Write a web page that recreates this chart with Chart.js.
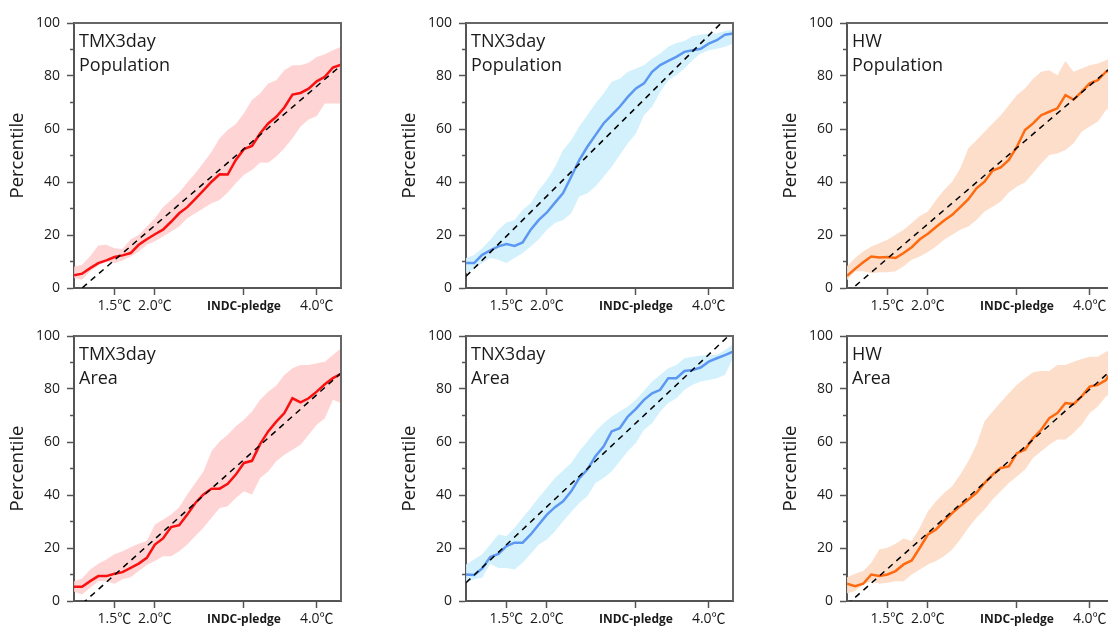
<!DOCTYPE html>
<html>
<head>
<meta charset="utf-8">
<script src="https://cdn.jsdelivr.net/npm/chart.js@4/dist/chart.umd.min.js"></script>
<style>
  body { margin: 0; width: 1108px; height: 628px; overflow: hidden; background: #fff; position: relative; }
  canvas { position: absolute; }
</style>
</head>
<body>
<canvas id="p1" width="380" height="330" style="left:0px;top:0px"></canvas>
<canvas id="p2" width="380" height="330" style="left:392px;top:0px"></canvas>
<canvas id="p3" width="380" height="330" style="left:773px;top:0px"></canvas>
<canvas id="p4" width="380" height="330" style="left:0px;top:313px"></canvas>
<canvas id="p5" width="380" height="330" style="left:392px;top:313px"></canvas>
<canvas id="p6" width="380" height="330" style="left:773px;top:313px"></canvas>
<script>
// global warming level (°C) for each sample
const warming = [1.0,1.1,1.2,1.3,1.4,1.5,1.6,1.7,1.8,1.9,2.0,2.1,2.2,2.3,2.4,2.5,2.6,2.7,2.8,2.9,3.0,3.1,3.2,3.3,3.4,3.5,3.6,3.7,3.8,3.9,4.0,4.1,4.2,4.3];
const fitX = [1.0, 4.3];
const xTickValues = [1.5, 2.0, 3.1, 4.0];
const xTickLabels = ['1.5℃', '2.0℃', 'INDC-pledge', '4.0℃'];
const yMinorTicks = [10, 30, 50, 70, 90];

// TMX3day - Population
const tmxPopMedian = [4.8,5.4,7.5,9.4,10.4,11.7,12.3,13.2,16.3,18.4,20.3,22.0,25.0,28.2,30.5,33.6,36.8,40.1,42.9,42.8,48.3,52.4,53.6,58.3,62.1,64.6,68.1,73.0,73.6,75.2,78.0,79.7,83.2,84.3];
const tmxPopUpper = [8.0,8.8,12.0,16.0,16.3,15.0,14.7,18.4,20.0,23.2,26.3,30.5,33.2,36.0,39.8,43.3,47.3,51.4,56.5,59.6,61.9,65.9,70.9,73.4,77.2,78.4,82.2,84.1,84.1,85.0,87.2,88.2,89.7,91.0];
const tmxPopLower = [3.8,3.1,6.3,8.5,10.0,9.4,10.4,11.9,13.8,16.3,17.6,19.4,21.3,23.2,26.3,28.2,30.1,32.0,33.2,36.0,39.5,42.7,44.5,47.4,47.3,49.6,52.7,56.5,60.9,63.6,64.9,69.6,69.6,69.6];
const tmxPopFit = [-2.6, 84.0];

// TNX3day - Population
const tnxPopMedian = [9.4,9.4,12.5,14.2,15.7,16.6,15.9,17.2,22.0,25.7,28.5,32.2,35.8,42.0,48.3,53.3,57.7,62.1,65.2,68.4,72.1,75.3,77.2,81.6,84.1,85.7,87.2,89.1,89.7,90.3,92.2,93.5,95.6,96.0];
const tnxPopUpper = [11.3,12.5,15.0,18.2,22.0,24.7,25.7,29.5,32.0,37.0,40.8,45.8,52.1,55.8,60.9,65.2,69.6,73.4,77.8,79.0,81.6,82.8,84.1,86.6,88.5,91.0,92.5,93.2,95.0,95.6,96.0,96.0,97.0,97.5];
const tnxPopLower = [5.6,7.2,9.4,11.3,10.7,9.4,11.3,13.2,15.7,18.4,22.0,24.5,25.7,28.2,34.5,35.8,38.3,42.0,45.8,50.2,54.6,58.3,65.2,68.4,74.0,78.4,80.3,82.8,85.9,88.5,89.7,90.3,91.0,92.2];
const tnxPopFit = [4.4, 104.4];

// HW - Population
const hwPopMedian = [4.6,7.2,9.7,11.9,11.5,11.7,11.3,13.2,15.4,18.4,20.5,23.0,25.5,27.6,30.5,33.5,37.6,40.1,44.3,45.5,48.3,53.3,59.6,62.1,65.2,66.5,67.8,72.8,71.1,74.0,77.2,78.4,81.6,82.8];
const hwPopUpper = [8.2,11.3,13.8,15.7,16.9,18.2,20.1,22.0,24.5,27.2,28.9,33.2,37.0,40.1,45.2,52.7,55.8,59.0,62.1,65.2,69.0,72.8,75.3,79.0,81.6,82.2,80.3,85.7,81.6,82.8,84.1,84.7,85.9,87.2];
const hwPopLower = [2.9,6.3,6.3,5.6,5.9,5.9,6.3,8.2,10.7,11.9,13.6,15.7,18.2,20.1,22.0,23.2,25.7,28.9,30.7,32.6,36.0,38.3,39.8,43.3,47.0,50.2,50.8,52.1,54.6,59.0,60.9,62.7,67.1,69.6];
const hwPopFit = [-1.9, 84.2];

// TMX3day - Area
const tmxAreaMedian = [5.4,5.4,7.5,9.4,9.4,10.3,10.9,12.5,14.1,16.3,21.3,23.6,27.9,28.6,32.6,37.0,40.2,42.4,42.4,44.2,47.7,52.1,52.9,59.2,64.0,67.7,70.9,76.5,75.0,76.5,79.0,81.8,84.1,85.7];
const tmxAreaUpper = [7.5,8.5,11.9,14.1,15.7,17.6,18.8,20.3,21.6,22.6,28.9,30.7,32.6,35.4,40.2,44.5,48.9,56.5,60.2,62.7,65.9,68.4,71.5,75.9,79.0,81.3,85.3,87.8,89.1,89.1,89.7,90.3,92.8,95.4];
const tmxAreaLower = [3.5,2.5,5.0,7.5,7.5,6.5,8.2,9.0,11.3,13.6,15.1,16.9,16.9,18.8,21.3,24.5,27.6,31.4,35.1,35.8,38.9,41.4,40.2,46.4,48.9,52.7,55.2,57.1,59.0,62.7,66.5,69.0,75.9,74.7];
const tmxAreaFit = [-3.8, 86.0];

// TNX3day - Area
const tnxAreaMedian = [10.0,9.8,12.3,16.6,17.8,20.7,22.0,22.0,25.1,28.9,32.6,35.4,37.6,41.4,46.4,49.6,54.6,58.3,64.0,65.2,69.6,72.5,75.9,78.4,79.7,84.1,84.1,86.8,87.2,88.1,90.3,91.6,92.8,94.1];
const tnxAreaUpper = [13.8,15.7,17.6,21.3,25.1,24.5,27.6,31.4,35.1,39.1,42.7,46.4,49.2,52.1,56.5,60.2,64.0,67.1,69.6,71.5,73.4,75.9,79.3,82.8,85.3,87.8,89.1,91.6,92.2,92.6,92.8,92.8,94.7,96.9];
const tnxAreaLower = [6.9,8.2,8.8,14.1,12.5,12.5,11.9,14.4,17.8,21.3,23.2,26.3,30.1,33.6,37.0,39.5,44.5,46.4,48.9,52.7,56.5,59.6,64.6,67.1,71.5,74.7,76.5,79.7,81.6,82.8,83.4,84.1,85.3,91.6];
const tnxAreaFit = [6.9, 101.6];

// HW - Area
const hwAreaMedian = [6.5,5.6,6.5,10.0,9.4,10.0,11.3,13.8,15.3,20.1,25.1,27.0,30.1,33.2,35.8,38.3,40.8,44.5,47.7,50.2,50.8,55.8,57.1,61.5,64.6,69.0,70.9,74.7,74.3,77.2,80.9,81.6,83.4,88.1];
const hwAreaUpper = [9.0,10.3,11.3,14.4,19.4,20.1,21.6,23.6,22.6,27.6,33.9,37.6,40.8,43.3,47.7,52.7,59.0,67.8,71.5,75.0,78.4,81.6,84.1,86.3,86.8,86.8,89.1,89.1,90.3,91.3,92.2,92.2,94.1,94.7];
const hwAreaLower = [2.8,3.8,6.3,7.5,6.5,6.9,7.5,7.5,10.0,11.9,13.8,15.1,16.9,19.4,23.2,27.6,31.4,34.5,38.3,41.4,44.5,47.0,49.6,54.0,56.5,59.0,60.9,60.9,63.4,66.5,70.9,73.4,77.2,79.0];
const hwAreaFit = [-1.4, 88.0];

const FONT = '"Open Sans", "Noto Sans CJK SC", sans-serif';
const RED = { line: '#fa1010', band: 'rgba(255,205,205,0.85)' };
const BLUE = { line: '#5c97f2', band: 'rgba(205,240,252,0.9)' };
const ORANGE = { line: '#ff6a10', band: 'rgba(253,218,196,0.9)' };

// minor y ticks, top/right frame and the panel caption
const panelDecor = {
  id: 'panelDecor',
  afterDraw(chart, args, opts) {
    const { ctx, chartArea: a, scales: { y } } = chart;
    ctx.save();
    ctx.strokeStyle = '#555';
    ctx.lineWidth = 1.5;
    ctx.beginPath();
    yMinorTicks.forEach(v => {
      const py = y.getPixelForValue(v);
      ctx.moveTo(a.left - 4, py);
      ctx.lineTo(a.left, py);
    });
    ctx.stroke();
    ctx.strokeStyle = '#666';
    ctx.lineWidth = 2;
    ctx.beginPath();
    ctx.moveTo(a.left, a.top);
    ctx.lineTo(a.right, a.top);
    ctx.lineTo(a.right, a.bottom);
    ctx.stroke();
    ctx.fillStyle = '#1a1a1a';
    ctx.font = '18px ' + FONT;
    ctx.textBaseline = 'alphabetic';
    opts.lines.forEach((t, i) => ctx.fillText(t, a.left + 5, a.top + 23.5 + i * 24.5));
    ctx.restore();
  }
};

function pts(xs, ys) {
  return xs.map((x, i) => ({ x: x, y: ys[i] }));
}

function makePanel(id, lines, col, median, upper, lower, fit) {
  new Chart(document.getElementById(id), {
    type: 'line',
    data: {
      datasets: [
        { data: pts(fitX, fit), borderColor: '#000', borderWidth: 1.5, borderDash: [6, 5], pointRadius: 0, fill: false, order: 0 },
        { data: pts(warming, median), borderColor: col.line, borderWidth: 2.5, pointRadius: 0, fill: false, order: 1 },
        { data: pts(warming, upper), borderColor: 'rgba(0,0,0,0)', borderWidth: 0, pointRadius: 0, backgroundColor: col.band, fill: '+1', order: 2 },
        { data: pts(warming, lower), borderColor: 'rgba(0,0,0,0)', borderWidth: 0, pointRadius: 0, fill: false, order: 3 }
      ]
    },
    options: {
      responsive: false,
      animation: false,
      layout: { padding: { top: 23, bottom: 2, left: 0, right: 39 } },
      plugins: {
        legend: { display: false },
        tooltip: { enabled: false },
        panelDecor: { lines: lines }
      },
      scales: {
        x: {
          type: 'linear',
          min: 1.0,
          max: 4.3,
          afterBuildTicks: s => { s.ticks = xTickValues.map(v => ({ value: v })); },
          afterFit: s => { s.height = 40; },
          border: { color: '#555', width: 2 },
          grid: { drawOnChartArea: false, tickLength: 7, tickColor: '#555', tickWidth: 1.5 },
          ticks: {
            autoSkip: false,
            maxRotation: 0,
            padding: 3,
            color: '#1a1a1a',
            callback: (v, i) => xTickLabels[i],
            font: c => c.index === 2
              ? { family: FONT, size: 12, weight: 'bold', lineHeight: 1.5 }
              : { family: FONT, size: 14 }
          }
        },
        y: {
          min: 0,
          max: 100,
          afterFit: s => { s.width = 74; },
          border: { color: '#555', width: 2 },
          grid: {
            drawOnChartArea: false,
            tickLength: 7,
            tickWidth: 1.5,
            tickColor: c => (c.tick && c.tick.value % 20 === 0) ? '#555' : 'rgba(0,0,0,0)'
          },
          ticks: {
            stepSize: 10,
            padding: 7,
            color: '#1a1a1a',
            font: { family: FONT, size: 14 },
            callback: v => (v % 20 === 0 ? v : '')
          },
          title: {
            display: true,
            text: 'Percentile',
            color: '#1a1a1a',
            font: { family: FONT, size: 18.5 },
            padding: { top: 7, bottom: 0 }
          }
        }
      }
    },
    plugins: [panelDecor]
  });
}

makePanel('p1', ['TMX3day', 'Population'], RED, tmxPopMedian, tmxPopUpper, tmxPopLower, tmxPopFit);
makePanel('p2', ['TNX3day', 'Population'], BLUE, tnxPopMedian, tnxPopUpper, tnxPopLower, tnxPopFit);
makePanel('p3', ['HW', 'Population'], ORANGE, hwPopMedian, hwPopUpper, hwPopLower, hwPopFit);
makePanel('p4', ['TMX3day', 'Area'], RED, tmxAreaMedian, tmxAreaUpper, tmxAreaLower, tmxAreaFit);
makePanel('p5', ['TNX3day', 'Area'], BLUE, tnxAreaMedian, tnxAreaUpper, tnxAreaLower, tnxAreaFit);
makePanel('p6', ['HW', 'Area'], ORANGE, hwAreaMedian, hwAreaUpper, hwAreaLower, hwAreaFit);
</script>
</body>
</html>
